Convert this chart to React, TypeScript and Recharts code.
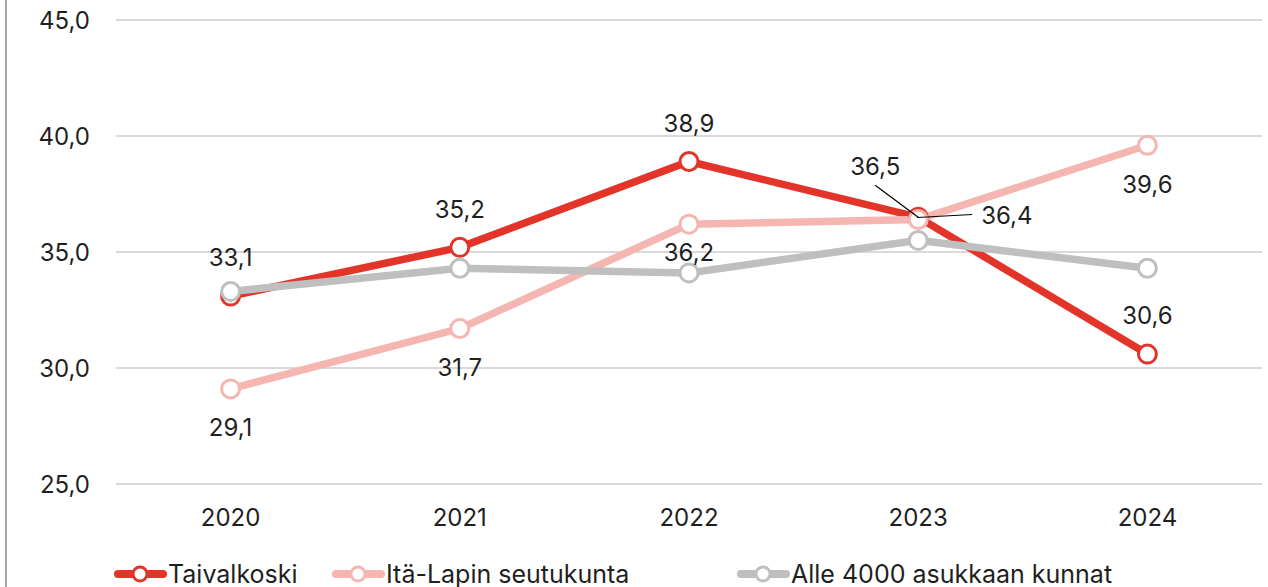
import React from 'react';
import { LineChart, Line, XAxis, YAxis, CartesianGrid, LabelList } from 'recharts';

const years = ['2020', '2021', '2022', '2023', '2024'];
const taivalkoski = [33.1, 35.2, 38.9, 36.5, 30.6];
const itaLappi = [29.1, 31.7, 36.2, 36.4, 39.6];
const alle4000 = [33.3, 34.3, 34.1, 35.5, 34.3];
const yTicks = [25, 30, 35, 40, 45];

const seriesNames = ['Taivalkoski', 'Itä-Lapin seutukunta', 'Alle 4000 asukkaan kunnat'];
const seriesKeys = ['taivalkoski', 'itaLappi', 'alle4000'];
const seriesColors = ['#E3342A', '#F5B5B1', '#BFBFBF'];

// label placement per point (styling only)
const labelPlacement: Record<string, string[]> = {
  taivalkoski: ['top', 'top', 'top', 'leaderUL', 'top'],
  itaLappi: ['bottom', 'bottom', 'bottomNear', 'leaderR', 'bottom'],
};

const data = years.map((y, i) => ({
  year: y,
  taivalkoski: taivalkoski[i],
  itaLappi: itaLappi[i],
  alle4000: alle4000[i],
}));

const FONT = 'Inter, "Open Sans", sans-serif';
const fmt = (v: number) => v.toFixed(1).replace('.', ',');

const makeLabel = (key: string) => (props: any) => {
  const { x, y, value, index } = props;
  const place = labelPlacement[key][index];
  const common = { fontFamily: FONT, fontSize: 24, fill: '#1F1F1F' };
  if (place === 'top') {
    return <text x={x} y={y - 38} dy="0.35em" textAnchor="middle" {...common}>{fmt(value)}</text>;
  }
  if (place === 'bottom') {
    return <text x={x} y={y + 39} dy="0.35em" textAnchor="middle" {...common}>{fmt(value)}</text>;
  }
  if (place === 'bottomNear') {
    return <text x={x} y={y + 28} dy="0.35em" textAnchor="middle" {...common}>{fmt(value)}</text>;
  }
  if (place === 'leaderUL') {
    return (
      <g>
        <line x1={x} y1={y} x2={x - 43} y2={y - 32} stroke="#000" strokeWidth={1.2} />
        <text x={x - 43} y={y - 51} dy="0.35em" textAnchor="middle" {...common}>{fmt(value)}</text>
      </g>
    );
  }
  if (place === 'leaderR') {
    return (
      <g>
        <line x1={x - 1} y1={y - 2} x2={x + 54} y2={y - 5} stroke="#000" strokeWidth={1.2} />
        <text x={x + 63} y={y - 4} dy="0.35em" textAnchor="start" {...common}>{fmt(value)}</text>
      </g>
    );
  }
  return null;
};

const legendLefts = [114, 332, 737];

export default function App() {
  return (
    <div style={{ position: 'absolute', left: 0, top: 0, width: 1268, height: 587, overflow: 'hidden', background: '#fff' }}>
      <div style={{ position: 'absolute', left: 5, top: 0, width: 1.5, height: 587, background: '#A6A6A6' }} />
      <LineChart width={1268} height={587} data={data} margin={{ top: 20, right: 6, left: 0, bottom: 63 }}>
        <CartesianGrid vertical={false} stroke="#D9D9D9" strokeWidth={2} />
        <XAxis
          dataKey="year"
          scale="point"
          padding={{ left: 114.6, right: 114.6 }}
          axisLine={false}
          tickLine={false}
          tickSize={0}
          tickMargin={25}
          height={40}
          tick={{ fontFamily: FONT, fontSize: 24, fill: '#1F1F1F' }}
        />
        <YAxis
          domain={[25, 45]}
          ticks={yTicks}
          width={116}
          axisLine={false}
          tickLine={false}
          tickSize={0}
          tickMargin={26}
          tickFormatter={fmt}
          tick={{ fontFamily: FONT, fontSize: 24, fill: '#1F1F1F' }}
        />
        {seriesKeys.map((k, i) => (
          <Line
            key={k}
            dataKey={k}
            name={seriesNames[i]}
            stroke={seriesColors[i]}
            strokeWidth={7.5}
            dot={{ r: 9, fill: '#fff', stroke: seriesColors[i], strokeWidth: 3 }}
            activeDot={false}
            isAnimationActive={false}
          >
            {labelPlacement[k] ? <LabelList dataKey={k} content={makeLabel(k)} /> : null}
          </Line>
        ))}
      </LineChart>
      {seriesNames.map((n, i) => (
        <div
          key={n}
          style={{
            position: 'absolute',
            left: legendLefts[i],
            top: 558,
            height: 32,
            display: 'flex',
            alignItems: 'center',
            whiteSpace: 'nowrap',
          }}
        >
          <svg width={53} height={20} style={{ display: 'block' }}>
            <line x1={4} y1={10} x2={49} y2={10} stroke={seriesColors[i]} strokeWidth={8} strokeLinecap="round" />
            <circle cx={26} cy={10} r={7} fill="#fff" stroke={seriesColors[i]} strokeWidth={3} />
          </svg>
          <span style={{ fontFamily: FONT, fontSize: 25, color: '#1F1F1F', lineHeight: '32px', marginLeft: 1 }}>{n}</span>
        </div>
      ))}
    </div>
  );
}
